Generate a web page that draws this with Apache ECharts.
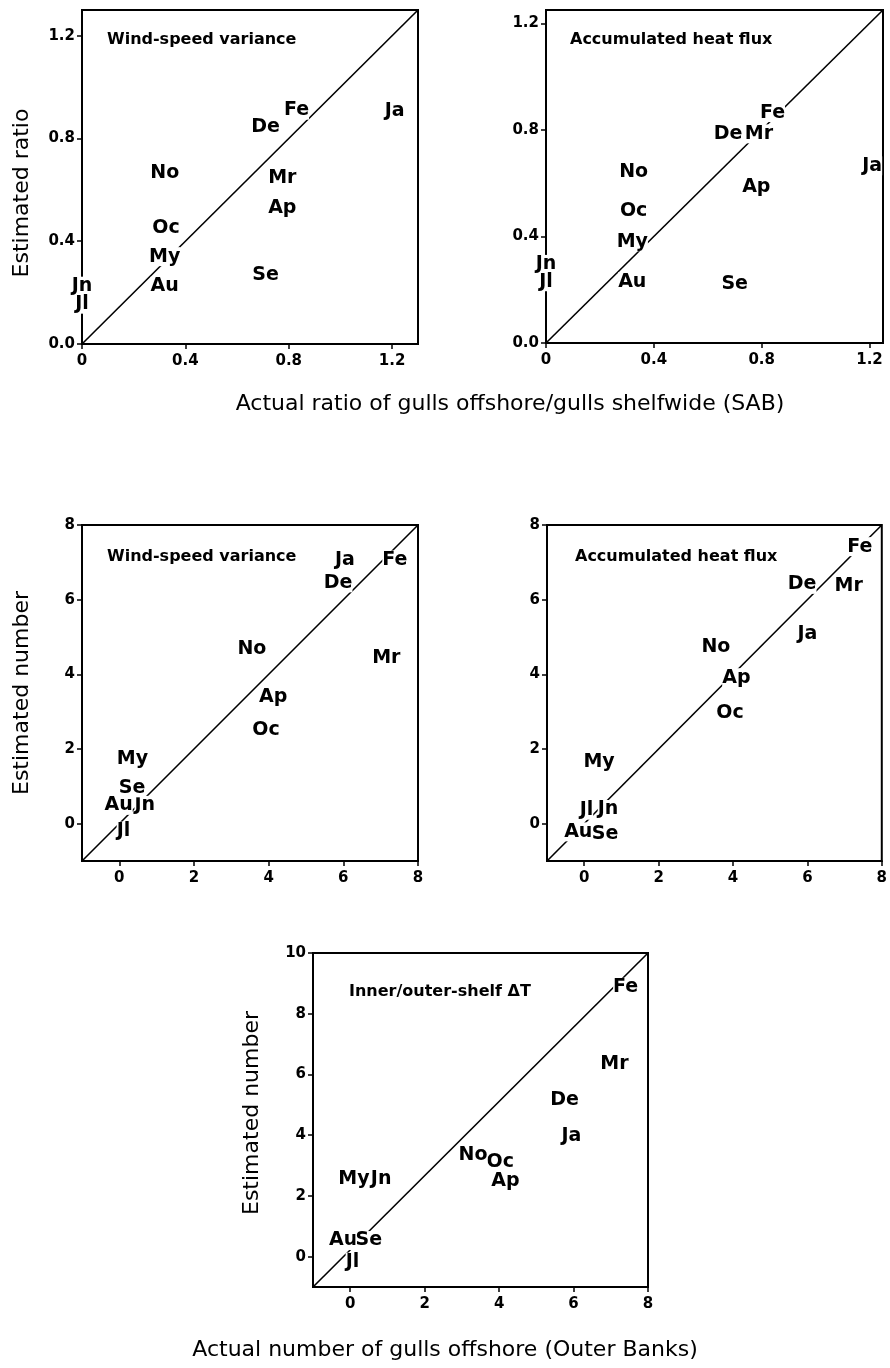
<!DOCTYPE html>
<html>
<head>
<meta charset="utf-8">
<script src="https://cdn.jsdelivr.net/npm/echarts@6/dist/echarts.min.js"></script>
<style>
html,body{margin:0;padding:0;background:#fff;}
#chart{width:890px;height:1368px;}
</style>
</head>
<body>
<div id="chart"></div>
<script>
// Month labels (same order for every panel)
const months = ['Ja','Fe','Mr','Ap','My','Jn','Jl','Au','Se','Oc','No','De'];

// Panel 1: ratio, wind-speed variance
const p1X = [1.21, 0.83, 0.775, 0.775, 0.32, 0.0, 0.0, 0.32, 0.71, 0.325, 0.32, 0.71];
const p1Y = [0.905, 0.91, 0.645, 0.53, 0.34, 0.225, 0.155, 0.225, 0.27, 0.45, 0.665, 0.845];
// Panel 2: ratio, accumulated heat flux
const p2X = [1.21, 0.84, 0.79, 0.78, 0.32, 0.0, 0.0, 0.32, 0.70, 0.325, 0.325, 0.675];
const p2Y = [0.665, 0.865, 0.785, 0.585, 0.38, 0.295, 0.23, 0.23, 0.22, 0.495, 0.64, 0.785];
// Panel 3: number, wind-speed variance
const p3X = [6.04, 7.38, 7.15, 4.12, 0.35, 0.68, 0.11, -0.02, 0.34, 3.93, 3.55, 5.86];
const p3Y = [7.06, 7.06, 4.44, 3.38, 1.72, 0.49, -0.2, 0.49, 0.96, 2.52, 4.67, 6.45];
// Panel 4: number, accumulated heat flux
const p4X = [6.0, 7.41, 7.11, 4.09, 0.40, 0.64, 0.06, -0.16, 0.56, 3.92, 3.54, 5.86];
const p4Y = [5.09, 7.42, 6.37, 3.91, 1.65, 0.38, 0.36, -0.22, -0.27, 2.95, 4.74, 6.41];
// Panel 5: number, inner/outer-shelf dT
const p5X = [5.94, 7.40, 7.10, 4.17, 0.10, 0.83, 0.06, -0.19, 0.50, 4.03, 3.30, 5.76];
const p5Y = [3.98, 8.87, 6.35, 2.48, 2.56, 2.56, -0.18, 0.53, 0.53, 3.11, 3.34, 5.15];

// Axis ranges and tick values
const ratio1Range = [0, 1.3];
const ratio2Range = [0, 1.25];
const numRange = [-1, 8];
const num5YRange = [-1, 10];
const ratioTicks = [0, 0.4, 0.8, 1.2];
const numTicks = [0, 2, 4, 6, 8];
const num5YTicks = [0, 2, 4, 6, 8, 10];

// Panel titles and axis titles
const panelTitles = ['Wind-speed variance', 'Accumulated heat flux', 'Wind-speed variance', 'Accumulated heat flux', 'Inner/outer-shelf \u0394T'];
const yTitleRatio = 'Estimated ratio';
const yTitleNumber = 'Estimated number';
const xTitleRatio = 'Actual ratio of gulls offshore/gulls shelfwide (SAB)';
const xTitleNumber = 'Actual number of gulls offshore (Outer Banks)';

const FONT = 'DejaVu Sans';

const grids = [
  {left: 82, top: 10, width: 336, height: 334},
  {left: 546, top: 10, width: 337, height: 333},
  {left: 82, top: 525, width: 336, height: 336},
  {left: 547, top: 525, width: 339, height: 336},
  {left: 313, top: 953, width: 335, height: 334}
].map(g => Object.assign({show: true, borderColor: '#000', borderWidth: 2, backgroundColor: 'transparent', containLabel: false}, g));

const labelStyle = {color: '#000', fontFamily: FONT, fontWeight: 'bold', fontSize: 15};

function axis(gi, range, ticks, fmt, isX) {
  const useInterval = range[0] === 0;
  const a = {
    type: 'value', gridIndex: gi, min: range[0], max: range[1],
    axisLine: {show: true, onZero: false, lineStyle: {color: '#000', width: 2}},
    axisTick: {show: true, length: 5, lineStyle: {color: '#000', width: 1.5}},
    axisLabel: Object.assign({show: true, formatter: fmt, margin: isX ? 10 : 7, showMaxLabel: false}, labelStyle),
    splitLine: {show: false}
  };
  if (useInterval) {
    a.interval = ticks[1] - ticks[0];
  } else {
    a.axisTick.customValues = ticks;
    a.axisLabel.customValues = ticks;
    a.axisLabel.showMaxLabel = true;
  }
  return a;
}
const fmtY1 = v => v.toFixed(1);
const fmtX1 = v => (v === 0 ? '0' : v.toFixed(1));
const fmtInt = v => String(Math.round(v));

const xAxes = [
  axis(0, ratio1Range, ratioTicks, fmtX1, true),
  axis(1, ratio2Range, ratioTicks, fmtX1, true),
  axis(2, numRange, numTicks, fmtInt, true),
  axis(3, numRange, numTicks, fmtInt, true),
  axis(4, numRange, numTicks, fmtInt, true)
];
const yAxes = [
  axis(0, ratio1Range, ratioTicks, fmtY1, false),
  axis(1, ratio2Range, ratioTicks, fmtY1, false),
  axis(2, numRange, numTicks, fmtInt, false),
  axis(3, numRange, numTicks, fmtInt, false),
  axis(4, num5YRange, num5YTicks, fmtInt, false)
];

const panelData = [[p1X, p1Y, ratio1Range, ratio1Range], [p2X, p2Y, ratio2Range, ratio2Range],
  [p3X, p3Y, numRange, numRange], [p4X, p4Y, numRange, numRange], [p5X, p5Y, numRange, num5YRange]];

const series = [];
panelData.forEach((pd, i) => {
  const [xs, ys, xr, yr] = pd;
  // diagonal from corner to corner of each panel
  series.push({
    type: 'line', xAxisIndex: i, yAxisIndex: i, data: [[xr[0], yr[0]], [xr[1], yr[1]]],
    symbol: 'none', lineStyle: {color: '#000', width: 1.6}, silent: true, z: 2, animation: false
  });
  series.push({
    type: 'scatter', xAxisIndex: i, yAxisIndex: i,
    data: months.map((m, k) => ({name: m, value: [xs[k], ys[k]]})),
    symbol: 'circle', symbolSize: 1, itemStyle: {color: 'rgba(0,0,0,0)', opacity: 1},
    label: {show: true, position: 'inside', formatter: p => p.name, color: '#000',
      textBorderWidth: 0, fontFamily: FONT, fontWeight: 'bold', fontSize: 19,
      backgroundColor: '#fff', padding: [0, 0], lineHeight: 19},
    labelLayout: {hideOverlap: false}, z: 5, animation: false, silent: true
  });
});

const titlePos = [[107, 40], [570, 40], [107, 557], [575, 557], [349, 992]];
const graphics = titlePos.map((p, i) => ({
  type: 'text', x: p[0], y: p[1], z: 10,
  style: {text: panelTitles[i], fontFamily: FONT, fontWeight: 'bold', fontSize: 16, fill: '#000', textAlign: 'left', textVerticalAlign: 'middle'}
}));
const yTitles = [[22, 193, yTitleRatio], [22, 693, yTitleNumber], [252, 1113, yTitleNumber]];
yTitles.forEach(t => graphics.push({
  type: 'text', x: t[0], y: t[1], rotation: Math.PI / 2, z: 10,
  style: {text: t[2], fontFamily: FONT, fontSize: 22, fill: '#000', textAlign: 'center', textVerticalAlign: 'middle'}
}));
graphics.push({type: 'text', x: 510, y: 404, z: 10,
  style: {text: xTitleRatio, fontFamily: FONT, fontSize: 22, fill: '#000', textAlign: 'center', textVerticalAlign: 'middle'}});
graphics.push({type: 'text', x: 445, y: 1350, z: 10,
  style: {text: xTitleNumber, fontFamily: FONT, fontSize: 22, fill: '#000', textAlign: 'center', textVerticalAlign: 'middle'}});

const chart = echarts.init(document.getElementById('chart'), null, {renderer: 'canvas'});
chart.setOption({
  backgroundColor: '#fff',
  animation: false,
  textStyle: {fontFamily: FONT, fontSize: 15, color: '#000'},
  grid: grids,
  xAxis: xAxes,
  yAxis: yAxes,
  series: series,
  graphic: graphics
});
</script>
</body>
</html>
